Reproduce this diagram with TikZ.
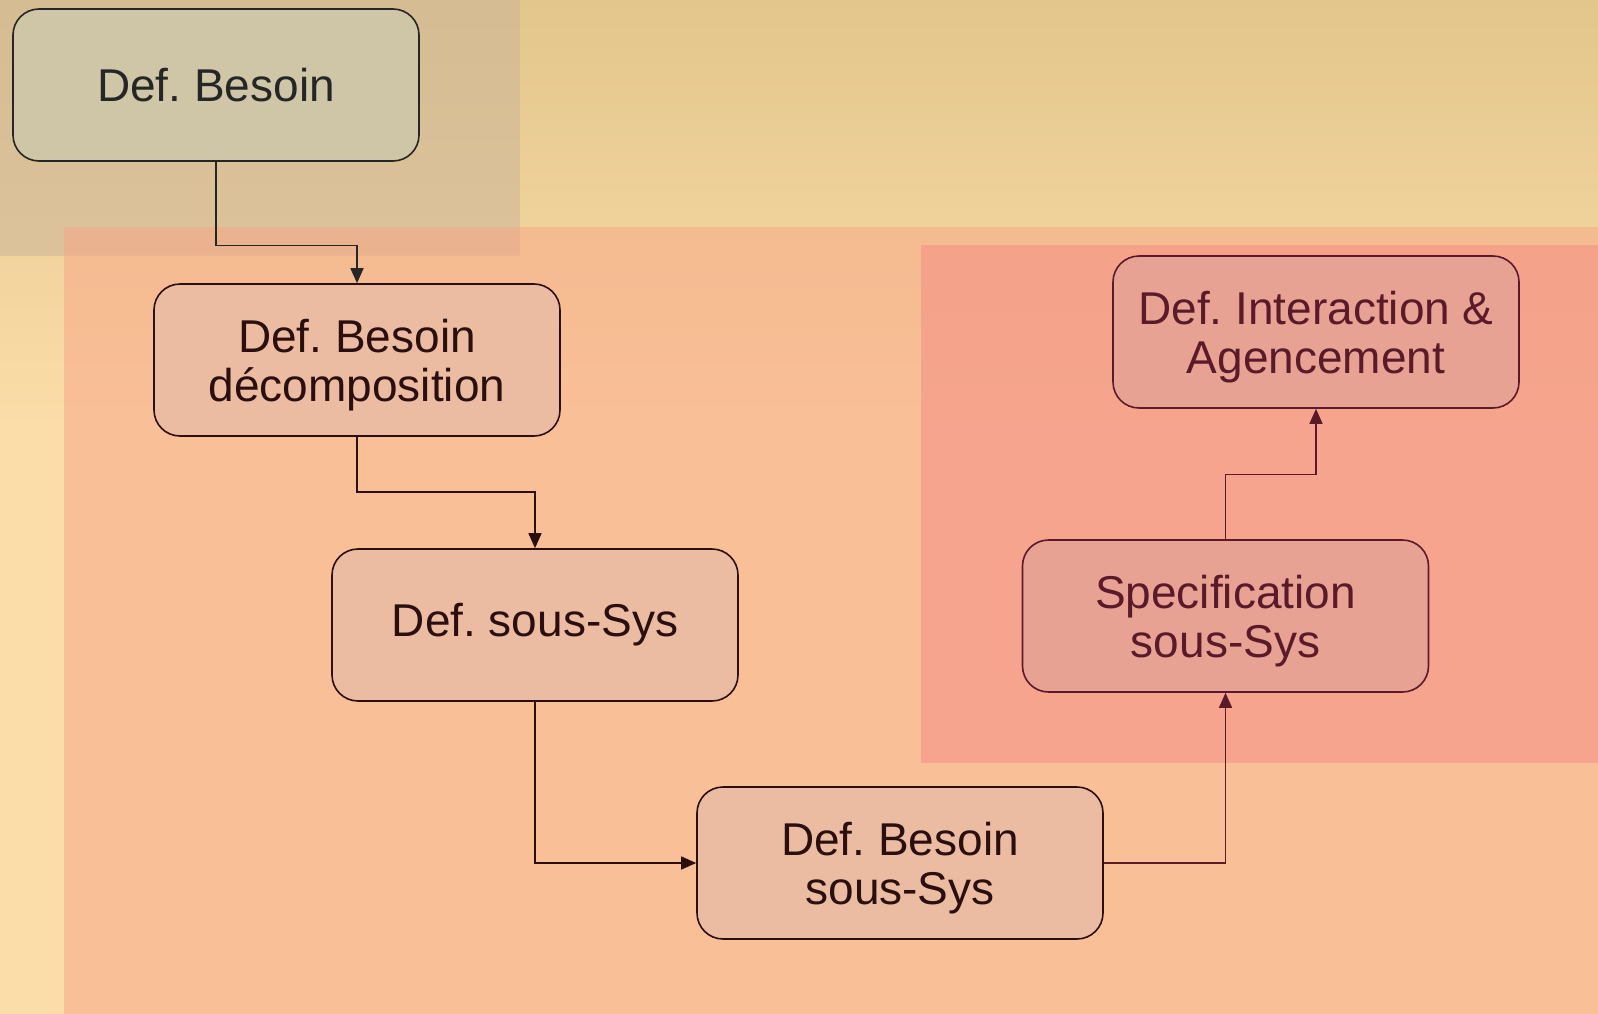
\documentclass[tikz,border=0pt]{standalone}
\usepackage{fontspec}
\setmainfont{Liberation Sans}
\usetikzlibrary{arrows.meta,calc}
\definecolor{bgtop}{HTML}{E3C68B}
\definecolor{bgbot}{HTML}{FBDDA9}
\definecolor{laneA}{HTML}{C9B39A}
\definecolor{laneB}{HTML}{F9A587}
\definecolor{laneC}{HTML}{F48B84}
\definecolor{fillA}{HTML}{CFC6A8}
\definecolor{fillB}{HTML}{EBBCA2}
\definecolor{fillC}{HTML}{E8A293}
\definecolor{lineA}{HTML}{262626}
\definecolor{lineB}{HTML}{2B0F0F}
\definecolor{lineC}{HTML}{5A1A2A}
\newcommand{\topstrut}{\rule{0pt}{44pt}}
\tikzset{
  boxbase/.style={rounded corners=26pt, minimum width=406pt, minimum height=152pt,
    inner sep=0pt, align=center, line width=1.6pt,
    font=\fontsize{46}{49}\selectfont\frenchspacing},
  boxA/.style={boxbase, draw=lineA, fill=fillA, text=lineA},
  boxB/.style={boxbase, draw=lineB, fill=fillB, text=lineB},
  boxC/.style={boxbase, draw=lineC, fill=fillC, text=lineC},
  conn/.style={line width=1.4pt, -{Triangle[length=15pt,width=13pt]}},
}
\begin{document}
\begin{tikzpicture}[x=1pt,y=-1pt]
\useasboundingbox (0,0) rectangle (1598,1014);
% background
\fill[bgbot] (0,0) rectangle (1598,1014);
\shade[top color=bgtop, bottom color=bgbot] (0,0) rectangle (1598,430);
% lanes
\fill[laneA, opacity=0.5] (0,0) rectangle (520,256);
\fill[laneB, opacity=0.52] (64,227) rectangle (1598,1014);
\fill[laneC, opacity=0.5] (921,245) rectangle (1598,763);
% nodes
\node[boxA] (b1) at (216,85) {Def. Besoin};
\node[boxB] (b2) at (357,360) {\topstrut Def. Besoin\\d\'ecomposition};
\node[boxB] (b3) at (535,625) {Def. sous-Sys};
\node[boxB] (b4) at (900,863) {\topstrut Def. Besoin\\sous-Sys};
\node[boxC] (b5) at (1225.5,616) {\topstrut Specification\\sous-Sys};
\node[boxC] (b6) at (1316,332) {\topstrut Def. Interaction \&\\Agencement};
% connectors
\draw[conn, draw=lineA] (b1.south) -- ++(0,83.6) -| (b2.north);
\draw[conn, draw=lineB] (b2.south) -- ++(0,55) -| (b3.north);
\draw[conn, draw=lineB] (b3.south) |- (b4.west);
\draw[conn, draw=lineC] (b4.east) -| (b5.south);
\draw[conn, draw=lineC] (b5.north) -- ++(0,-65) -| (b6.south);
\end{tikzpicture}
\end{document}
